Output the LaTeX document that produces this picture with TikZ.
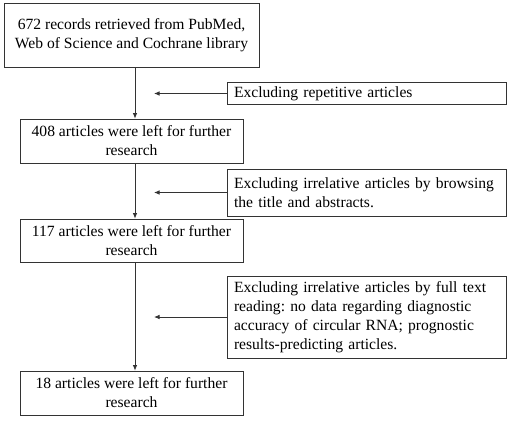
\documentclass[tikz,border=0pt]{standalone}
\usepackage{fontspec}
\setmainfont{Liberation Serif}
\usetikzlibrary{arrows.meta}
\frenchspacing

\tikzset{
  caja/.style={draw=black!80, line width=0.8pt, inner sep=0pt, align=center,
    font=\fontsize{15.6}{19}\selectfont},
  exclusion/.style={caja, align=left, text width=265pt, minimum width=279pt},
  flecha/.style={draw=black!80, line width=0.8pt, -{Latex[length=5.5pt,width=4.5pt]}}
}

\begin{document}
\begin{tikzpicture}[x=1pt,y=-1pt]
  % Parámetros: columna del flujo principal y punta de las flechas laterales
  \def\xc{135}
  \def\xp{154}

  \useasboundingbox (0,0) rectangle (510,420);
  \coordinate (eje) at (\xc,0);
  \coordinate (punta) at (\xp,0);

  % Cajas del flujo principal
  \node[caja, minimum width=255pt, minimum height=64pt] (registros) at (131.5,35.5)
    {672 records retrieved from PubMed,\\Web of Science and Cochrane library};
  \node[caja, minimum width=223pt, minimum height=44pt] (art408) at (131.5,141)
    {408 articles were left for further\\research};
  \node[caja, minimum width=223pt, minimum height=43pt] (art117) at (131.5,240.5)
    {117 articles were left for further\\research};
  \node[caja, minimum width=223pt, minimum height=44pt] (art18) at (131.5,393)
    {18 articles were left for further\\research};

  % Cajas de exclusión
  \node[exclusion, minimum height=22pt] (excl1) at (366.5,93.5)
    {Excluding repetitive articles};
  \node[exclusion, minimum height=47pt] (excl2) at (366.5,192.5)
    {Excluding irrelative articles by browsing\\the title and abstracts.};
  \node[exclusion, minimum height=82pt] (excl3) at (366.5,317)
    {Excluding irrelative articles by full text\\reading: no data regarding diagnostic\\accuracy of circular RNA; prognostic\\results-predicting articles.};

  % Flechas verticales
  \draw[flecha] (registros.south -| eje) -- (art408.north -| eje);
  \draw[flecha] (art408.south -| eje) -- (art117.north -| eje);
  \draw[flecha] (art117.south -| eje) -- (art18.north -| eje);

  % Flechas laterales (terminan antes del eje)
  \draw[flecha] (excl1.west) -- (excl1.west -| punta);
  \draw[flecha] (excl2.west) -- (excl2.west -| punta);
  \draw[flecha] (excl3.west) -- (excl3.west -| punta);
\end{tikzpicture}
\end{document}
